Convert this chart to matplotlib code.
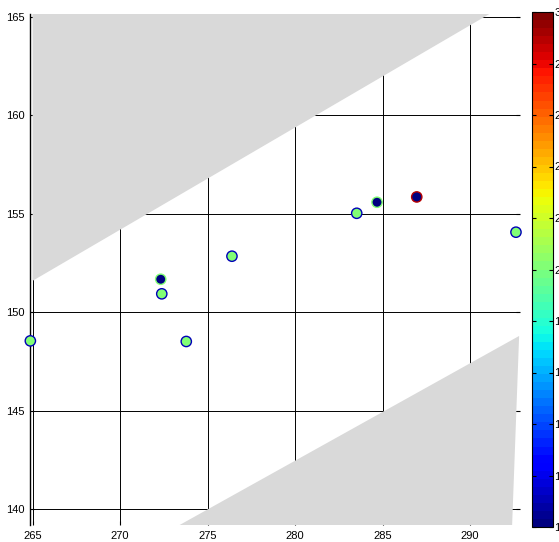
import numpy as np
import matplotlib
matplotlib.use('Agg')
import matplotlib.pyplot as plt
from matplotlib.colors import Normalize

plt.rcParams['font.family'] = ['Liberation Sans', 'DejaVu Sans']
plt.rcParams['font.size'] = 8

# station points
pt_x = [264.87, 272.32, 272.38, 273.78, 276.39, 283.52, 284.68, 286.95, 292.62]
pt_y = [148.55, 151.68, 150.94, 148.52, 152.85, 155.03, 155.59, 155.86, 154.07]
face_val = [2.0, 1.0, 2.0, 2.0, 2.0, 2.0, 1.0, 1.0, 2.0]
edge_val = [1.1, 2.0, 1.1, 1.1, 1.1, 1.1, 2.0, 2.9, 1.1]

# masked (no data) regions
mask_top_x = [265.0, 291.1, 265.0]
mask_top_y = [165.15, 165.15, 151.6]
mask_bot_x = [273.4, 292.4, 292.8]
mask_bot_y = [139.2, 139.2, 148.8]

xticks = [265, 270, 275, 280, 285, 290]
yticks = [140, 145, 150, 155, 160, 165]
cticks = [1.0, 1.2, 1.4, 1.6, 1.8, 2.0, 2.2, 2.4, 2.6, 2.8, 3.0]

cmap = plt.get_cmap('jet', 64)
norm = Normalize(1, 3)

fig = plt.figure(figsize=(5.59, 5.42), dpi=100)
ax = fig.add_axes([30/559, 1-525/542, 490/559, 511/542])
ax.set_xlim(264.85, 292.85)
ax.set_ylim(139.2, 165.15)

# grid under the gray patches
for v in xticks:
    ax.axvline(v, color='black', lw=0.7, zorder=1)
for v in yticks:
    ax.axhline(v, color='black', lw=0.7, zorder=1)

ax.fill(mask_top_x, mask_top_y, color='#d9d9d9', lw=0, zorder=2)
ax.fill(mask_bot_x, mask_bot_y, color='#d9d9d9', lw=0, zorder=2)

ax.scatter(pt_x, pt_y, s=55, c=cmap(norm(np.array(face_val))),
           edgecolors=cmap(norm(np.array(edge_val))), linewidths=1.0,
           zorder=3, clip_on=False)

ax.set_xticks(xticks)
ax.set_yticks(yticks)
ax.tick_params(direction='in', length=3, top=True, right=True, pad=4)
for s in ['top', 'right', 'bottom']:
    ax.spines[s].set_visible(False)
ax.spines['left'].set_linewidth(1.0)

# colorbar
cax = fig.add_axes([532/559, 1-527/542, 21/559, 515/542])
sm = plt.cm.ScalarMappable(norm=norm, cmap=cmap)
cb = fig.colorbar(sm, cax=cax, ticks=cticks, format='%g')
cb.outline.set_linewidth(0.8)
cax.tick_params(direction='in', length=3, left=True, right=True, pad=1)

fig.savefig('out.png', dpi=100)
